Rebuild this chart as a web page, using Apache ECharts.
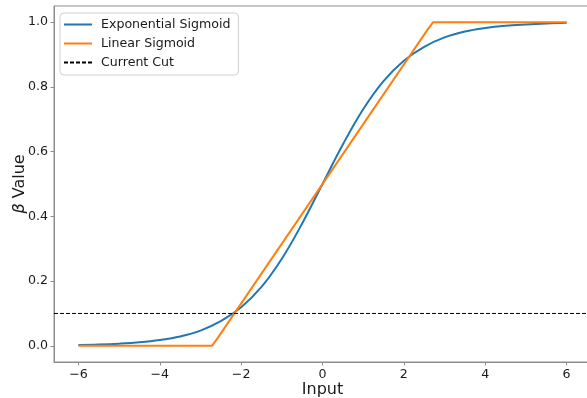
<!DOCTYPE html>
<html>
<head>
<meta charset="utf-8">
<script src="https://cdn.jsdelivr.net/npm/echarts@6/dist/echarts.min.js"></script>
<style>
  html, body { margin: 0; padding: 0; background: #fff; }
  #chart { width: 587px; height: 398px; }
</style>
</head>
<body>
<div id="chart"></div>
<script>
// values
const inputValues = [
  -6, -5.5, -5, -4.5, -4, -3.5, -3, -2.5, -2, -1.5, -1, -0.5,
  0, 0.5, 1, 1.5, 2, 2.5, 3, 3.5, 4, 4.5, 5, 5.5, 6,
];
const exponentialValues = [
  0.0025, 0.004, 0.0067, 0.011, 0.018, 0.029, 0.047, 0.076, 0.119, 0.182, 0.269, 0.378,
  0.5, 0.622, 0.731, 0.818, 0.881, 0.924, 0.953, 0.971, 0.982, 0.989, 0.993, 0.996, 0.998,
];
const linearInputs = [-6, -2.72, -2.6, 2.6, 2.72, 6];
const linearValues = [0, 0, 0.02, 0.98, 1, 1];
const cutValue = 0.1;
const xRange = [-6.6, 6.6];
const yRange = [-0.05, 1.05];

const font = "DejaVu Sans";
const spineColor = "#8c8c8c";
const textColor = "#1a1a1a";

const chart = echarts.init(document.getElementById("chart"));

function pairs(xs, ys) {
  return xs.map((x, i) => [x, ys[i]]);
}

chart.setOption({
  animation: false,
  textStyle: {
    fontFamily: font,
  },
  grid: {
    left: 54,
    right: -4,
    top: 6,
    bottom: 36,
    outerBoundsMode: "none",
    containLabel: false,
    show: true,
    borderColor: spineColor,
    borderWidth: 1,
  },
  legend: {
    orient: "vertical",
    left: 60,
    top: 13,
    padding: [5, 8, 6, 3],
    itemWidth: 28,
    itemHeight: 14,
    itemGap: 6,
    backgroundColor: "#fff",
    borderColor: "#d0d0d0",
    borderWidth: 1,
    borderRadius: 4,
    itemStyle: {
      opacity: 0,
    },
    textStyle: {
      fontFamily: font,
      fontSize: 12.6,
      color: textColor,
      padding: [0, 0, 0, 4],
    },
    data: ["Exponential Sigmoid", "Linear Sigmoid", "Current Cut"],
  },
  xAxis: {
    type: "value",
    min: xRange[0],
    max: xRange[1],
    splitNumber: 7,
    name: "Input",
    nameLocation: "middle",
    nameGap: 20,
    nameMoveOverlap: false,
    nameTextStyle: {
      fontFamily: font,
      fontSize: 16,
      color: textColor,
    },
    splitLine: { show: false },
    axisLine: { onZero: false, lineStyle: { color: spineColor, width: 1 } },
    axisTick: {
      length: 3.5,
      lineStyle: { color: spineColor },
    },
    axisLabel: {
      showMinLabel: false,
      showMaxLabel: false,
      fontSize: 12.6,
      color: textColor,
      margin: 6,
      formatter: (v) => String(v).replace("-", "\u2212"),
    },
  },
  yAxis: {
    type: "value",
    min: yRange[0],
    max: yRange[1],
    splitNumber: 5,
    name: "{b|β} Value",
    nameLocation: "middle",
    nameRotate: 90,
    nameGap: 26,
    nameMoveOverlap: false,
    nameTextStyle: {
      fontFamily: font,
      fontSize: 16,
      color: textColor,
      rich: {
        b: {
          fontFamily: font,
          fontSize: 16,
          fontStyle: "italic",
          color: textColor,
        },
      },
    },
    splitLine: { show: false },
    axisLine: { show: true, onZero: false, lineStyle: { color: spineColor, width: 1 } },
    axisTick: {
      show: true,
      length: 3.5,
      lineStyle: { color: spineColor },
    },
    axisLabel: {
      showMinLabel: false,
      showMaxLabel: false,
      fontSize: 12.6,
      color: textColor,
      margin: 6,
      formatter: (v) => v.toFixed(1),
    },
  },
  series: [
    {
      name: "Exponential Sigmoid",
      type: "line",
      symbol: "none",
      smooth: 0.4,
      color: "#1f77b4",
      lineStyle: { width: 2 },
      data: pairs(inputValues, exponentialValues),
    },
    {
      name: "Linear Sigmoid",
      type: "line",
      symbol: "none",
      color: "#ff7f0e",
      lineStyle: { width: 2 },
      data: pairs(linearInputs, linearValues),
    },
    {
      name: "Current Cut",
      type: "line",
      symbol: "none",
      color: "#000",
      lineStyle: { width: 1, type: [4, 2] },
      data: pairs(xRange, [cutValue, cutValue]),
    },
  ],
});
</script>
</body>
</html>
